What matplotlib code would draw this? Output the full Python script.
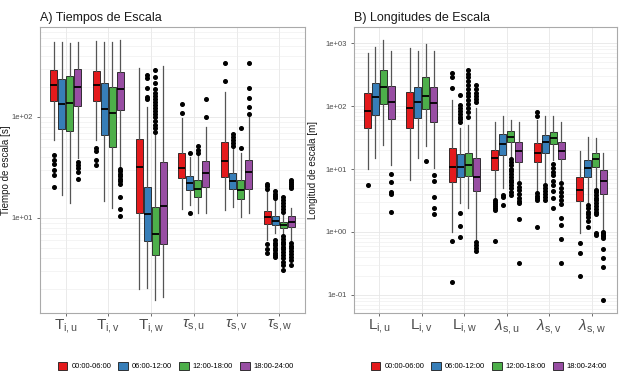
import matplotlib
matplotlib.use('Agg')
import matplotlib.pyplot as plt
from matplotlib.patches import Patch
from matplotlib.ticker import FixedLocator, NullFormatter, LogLocator

plt.rcParams['font.family'] = ['Liberation Sans', 'DejaVu Sans']
plt.rcParams['mathtext.fontset'] = 'custom'
plt.rcParams['mathtext.rm'] = 'Liberation Sans'
plt.rcParams['mathtext.it'] = 'Liberation Sans:italic'

SLOTS = ['00:00-06:00', '06:00-12:00', '12:00-18:00', '18:00-24:00']
COLORS = ['#E41A1C', '#377EB8', '#4DAF4A', '#984EA3']

# ---- panel A: scale times [s] ----
A_LABELS = [r'$\mathrm{T_{i,u}}$', r'$\mathrm{T_{i,v}}$', r'$\mathrm{T_{i,w}}$',
            r'$\tau_{\mathrm{s,u}}$', r'$\tau_{\mathrm{s,v}}$', r'$\tau_{\mathrm{s,w}}$']
A_HI = [[550, 569, 303, 97, 178, 18],
        [550, 550, 126, 40, 49, 15],
        [537, 550, 66, 42, 43.7, 10.7],
        [550, 578, 322, 80, 100, 12.5]]
A_Q3 = [[292, 287, 60, 43.7, 57, 11.7],
        [236, 219, 20.4, 26, 27.7, 10.5],
        [255, 200, 12.9, 23.8, 23.8, 9.05],
        [299, 277, 36, 36.6, 37.5, 10.5]]
A_MED = [[206, 207, 32, 31.5, 36.6, 10.2],
         [134, 119, 10.9, 22, 23.2, 9.4],
         [137, 110, 6.9, 19.2, 18.9, 8.5],
         [200, 189, 13.2, 27.7, 28.3, 9.05]]
A_Q1 = [[144, 145, 11.1, 24.7, 25.7, 8.7],
        [76, 67, 5.85, 18.9, 19.4, 8.5],
        [73, 50.8, 4.3, 16, 15.3, 7.9],
        [128.5, 117, 5.5, 20.4, 19.4, 8.2]]
A_LO = [[59, 59, 1.97, 12.3, 12, 6.05],
        [16.9, 14.7, 2.01, 13.4, 12.9, 7.05],
        [14, 12.5, 1.54, 11.1, 10.3, 7.0],
        [39, 32, 1.66, 11.1, 11.1, 6.05]]
A_OUT = [
    [[42, 37.5, 34, 30, 26.6, 20.4], [49, 46, 37.6, 33.5], [], [134, 109], [345, 227],
     [19.5, 20.5, 21.5, 5.5, 4.9, 4.45]],
    [[], [], [261, 241, 192, 159, 151], [44, 11.1], [68, 63, 59, 55, 52],
     [15.8, 16.5, 17.3, 18.5, 6.0, 5.7, 5.4, 5.1, 4.8, 4.5, 4.3, 4.1]],
    [[], [], [292, 249, 217, 189, 173, 161, 151, 141, 131, 123, 115, 107, 100, 91, 83, 77, 71.5],
     [52, 47, 44], [77, 49],
     [16.3, 15, 14, 13, 12.2, 11.5, 6.6, 6.2, 5.8, 5.5, 5.2, 4.9, 4.6, 4.3, 4.0, 3.7, 3.4, 3.05]],
    [[36, 33.5, 31, 28.7, 24.3], [30.5, 29, 27.5, 26, 24.5, 23, 21.5, 16, 12.2, 10.5], [],
     [151, 99], [345, 195, 155, 125, 106],
     [19.7, 20.5, 21.5, 22.5, 23.8, 5.6, 5.3, 5.0, 4.7, 4.4, 4.1, 3.8, 3.4]],
]

# ---- panel B: scale lengths [m] ----
B_LABELS = [r'$\mathrm{L_{i,u}}$', r'$\mathrm{L_{i,v}}$', r'$\mathrm{L_{i,w}}$',
            r'$\lambda_{\mathrm{s,u}}$', r'$\lambda_{\mathrm{s,v}}$', r'$\lambda_{\mathrm{s,w}}$']
B_HI = [[693, 851, 126, 56.8, 60, 19.4],
        [883, 754, 45, 70.7, 70.7, 32.7],
        [1130, 975, 50, 60, 70.7, 30.9],
        [754, 754, 93, 56.8, 56.8, 18.2]]
B_Q3 = [[160, 170, 21.4, 20.1, 25.9, 7.6],
        [231, 204, 17.2, 36, 34.8, 13.9],
        [377, 294, 18.2, 40, 39.4, 18.2],
        [210, 200, 14.9, 27.3, 26.7, 9.6]]
B_MED = [[84, 93, 10.9, 14.9, 17.8, 4.65],
         [138, 118, 10.9, 25, 26.7, 10.3],
         [204, 147, 11.6, 32.7, 31.5, 14.4],
         [115, 111, 7.6, 19.4, 19.6, 6.5]]
B_Q1 = [[45.5, 44.6, 6.3, 9.7, 12.8, 3.1],
        [72, 65.6, 7.6, 16.8, 17.8, 7.6],
        [108, 89, 7.8, 27.3, 24.8, 10.9],
        [61.6, 56.8, 4.5, 12.8, 14.3, 4.0]]
B_LO = [[10, 6.7, 1.01, 3.4, 4.4, 0.95],
        [14.9, 15.2, 2.86, 5.0, 6.3, 3.0],
        [24.2, 23.5, 2.4, 15.8, 13.9, 5.0],
        [11.6, 10.4, 0.74, 6.7, 6.7, 1.08]]
B_OUT = [
    [[5.6], [], [341, 294, 193, 0.72, 0.158], [3.2, 3.0, 2.8, 2.6, 2.4, 2.25, 0.73],
     [80, 71, 4.1, 3.8, 3.5, 3.2, 1.2], [0.67, 0.46, 0.2]],
    [[], [], [150, 105, 95, 85, 75, 68, 62, 57, 2.0, 1.25, 0.84], [3.9, 3.6, 2.7],
     [5.6, 5.0, 4.5, 4.0, 3.6, 3.2], [2.7, 2.4, 2.1, 1.9, 1.7, 1.5, 1.2]],
    [[], [13.5], [377, 330, 290, 250, 215, 190, 165, 145, 125, 110, 95, 82, 68.5],
     [14.5, 13, 11.5, 10.2, 9.2, 8.3, 7.5, 6.8, 6.2, 5.6, 5.0, 4.3, 3.9],
     [12, 10.5, 9, 8, 6.5, 5.5, 4.5, 3.5, 2.4],
     [4.7, 4.3, 3.9, 3.5, 3.2, 2.9, 2.6, 2.3, 2.1, 1.9, 0.95, 0.9]],
    [[8.3, 6.3, 4.4, 4.0, 2.1], [8.1, 6.5, 3.6, 2.4, 1.9],
     [217, 190, 165, 145, 130, 118, 0.69, 0.62, 0.56, 0.5],
     [6.0, 5.2, 4.6, 4.0, 3.5, 3.1, 2.9, 1.6, 0.32],
     [5.9, 5.0, 4.3, 3.7, 3.2, 2.8, 1.65, 1.3, 0.78, 0.32],
     [1.0, 0.95, 0.9, 0.85, 0.8, 0.53, 0.39, 0.28, 0.084]],
]


def draw_panel(ax, labels, lo, q1, med, q3, hi, out, ylim, yticks, ticklabels, title, ylabel):
    n = len(labels)
    for g in range(4):
        stats = []
        for c in range(n):
            stats.append(dict(whislo=lo[g][c], q1=q1[g][c], med=med[g][c],
                              q3=q3[g][c], whishi=hi[g][c], fliers=out[g][c]))
        pos = [c + (g - 1.5) * 0.1875 for c in range(n)]
        ax.bxp(stats, positions=pos, widths=0.165, patch_artist=True,
               showcaps=False, manage_ticks=False,
               boxprops=dict(facecolor=COLORS[g], edgecolor='#1a1a1a', linewidth=0.6),
               medianprops=dict(color='black', linewidth=1.3),
               whiskerprops=dict(color='#555555', linewidth=0.9),
               flierprops=dict(marker='o', markersize=2.6, markerfacecolor='black',
                               markeredgecolor='black', linestyle='none'),
               zorder=3)
    ax.set_yscale('log')
    ax.set_ylim(*ylim)
    ax.set_xlim(-0.6, n - 0.4)
    ax.set_xticks(range(n))
    ax.set_xticklabels(labels, fontsize=11, color='#4d4d4d')
    ax.yaxis.set_major_locator(FixedLocator(yticks))
    ax.set_yticklabels(ticklabels)
    ax.yaxis.set_minor_locator(LogLocator(base=10, subs=range(2, 10), numticks=20))
    ax.yaxis.set_minor_formatter(NullFormatter())
    ax.tick_params(axis='y', labelsize=5.5, labelcolor='#4d4d4d', length=2, color='#333333', width=0.5)
    ax.tick_params(axis='x', length=2, color='#333333', width=0.5, pad=1)
    ax.tick_params(which='minor', length=0)
    ax.grid(True, which='major', color='#e6e6e6', linewidth=0.6, zorder=0)
    ax.grid(True, which='minor', axis='y', color='#ececec', linewidth=0.4, zorder=0)
    ax.set_axisbelow(True)
    for s in ax.spines.values():
        s.set_color('#aaaaaa')
        s.set_linewidth(0.8)
    ax.set_title(title, loc='left', fontsize=9, color='#1a1a1a', pad=4)
    ax.set_ylabel(ylabel, fontsize=7, color='#1a1a1a')


fig = plt.figure(figsize=(6.24, 3.77), dpi=100)
ax1 = fig.add_axes([40 / 624, 64 / 377, 265 / 624, 286 / 377])
ax2 = fig.add_axes([354 / 624, 64 / 377, 263 / 624, 286 / 377])

draw_panel(ax1, A_LABELS, A_LO, A_Q1, A_MED, A_Q3, A_HI, A_OUT, (1.146, 778),
           [10, 100], ['1e+01', '1e+02'], 'A) Tiempos de Escala', 'Tiempo de escala [s]')
draw_panel(ax2, B_LABELS, B_LO, B_Q1, B_MED, B_Q3, B_HI, B_OUT, (0.0515, 1815),
           [0.1, 1, 10, 100, 1000], ['1e-01', '1e+00', '1e+01', '1e+02', '1e+03'],
           'B) Longitudes de Escala', 'Longitud de escala [m]')
ax1.yaxis.set_label_coords(-0.11, 0.5)
ax2.yaxis.set_label_coords(-0.135, 0.5)

handles = [Patch(facecolor=c, edgecolor='#1a1a1a', linewidth=0.6, label=s)
           for c, s in zip(COLORS, SLOTS)]
for ax in (ax1, ax2):
    bb = ax.get_position()
    fig.legend(handles=handles, loc='center', ncol=4, frameon=False, fontsize=5.5,
               bbox_to_anchor=((bb.x0 + bb.x1) / 2 + 0.005, 11 / 377),
               handlelength=1.3, handleheight=1.2, handletextpad=0.5, columnspacing=0.9)

fig.savefig('out.png', dpi=100)
